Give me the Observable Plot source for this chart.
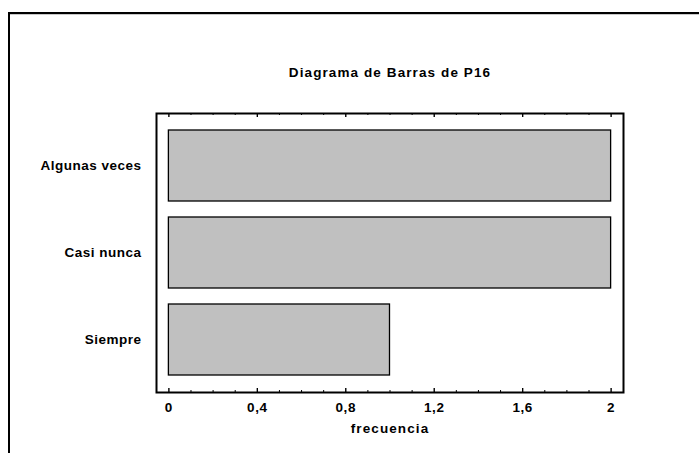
<!DOCTYPE html>
<html>
<head>
<meta charset="utf-8">
<script src="https://cdn.jsdelivr.net/npm/d3@7"></script>
<script src="https://cdn.jsdelivr.net/npm/@observablehq/plot@0.6"></script>
<style>
  body { margin: 0; background: #fff; }
  #wrap { position: relative; width: 699px; height: 453px; overflow: hidden; background: #fff; }
  #border { position: absolute; left: 8px; top: 12px; width: 720px; height: 460px;
            border-top: 2px solid #000; border-left: 2px solid #000;
            box-shadow: inset 0 1px 0 #c8c8c8; }
  #chart { position: absolute; left: 0; top: 0; }
  text { font-family: "Liberation Sans", Arial, sans-serif; }
</style>
</head>
<body>
<div id="wrap"><div id="border"></div><div id="chart"></div></div>
<script>
const title = "Diagrama de Barras de P16";
const xLabel = "frecuencia";
const categories = ["Algunas veces", "Casi nunca", "Siempre"];
const values = [2, 2, 1];
const majorTicks = [0, 0.4, 0.8, 1.2, 1.6, 2];
const minorTicks = [0.1, 0.2, 0.3, 0.5, 0.6, 0.7, 0.9, 1.0, 1.1, 1.3, 1.4, 1.5, 1.7, 1.8, 1.9];

const data = categories.map((c, i) => ({category: c, value: values[i]}));

const W = 699, H = 453;
const mL = 156, mR = 76, mT = 113, mB = 61;
const frameH = H - mT - mB;

const chart = Plot.plot({
  width: W,
  height: H,
  marginLeft: mL,
  marginRight: mR,
  marginTop: mT,
  marginBottom: mB,
  style: {fontFamily: "Liberation Sans, Arial, sans-serif", fontSize: "13px", background: "transparent", overflow: "visible"},
  x: {domain: [-0.056, 2.056]},
  y: {domain: categories, padding: 0.18},
  marks: [
    Plot.barX(data, {x: "value", y: "category", fill: "#c0c0c0", stroke: "#000", strokeWidth: 1.3}),
    // bottom ticks (inward)
    Plot.tickX(majorTicks, {x: d => d, insetTop: frameH - 4, stroke: "#000", strokeWidth: 1.4}),
    Plot.tickX(minorTicks, {x: d => d, insetTop: frameH - 2, stroke: "#000", strokeWidth: 1}),
    // top ticks (inward)
    Plot.tickX(majorTicks, {x: d => d, insetBottom: frameH - 4, stroke: "#000", strokeWidth: 1.4}),
    Plot.tickX(minorTicks, {x: d => d, insetBottom: frameH - 2, stroke: "#000", strokeWidth: 1}),
    Plot.frame({stroke: "#000", strokeWidth: 2}),
    Plot.axisX(majorTicks, {
      anchor: "bottom", tickSize: 0, tickPadding: 10, label: null,
      tickFormat: d => String(d).replace(".", ","),
      fontSize: 13.5, fontWeight: "bold", fill: "#000", className: "xt"
    }),
    Plot.axisY({
      anchor: "left", tickSize: 0, tickPadding: 15, label: null,
      fontSize: 13.5, fontWeight: "bold", fill: "#000", className: "yt"
    }),
    Plot.text([xLabel], {frameAnchor: "bottom", dy: 40, fontSize: 13.5, fontWeight: "bold", fill: "#000", className: "xl"}),
    Plot.text([title], {frameAnchor: "top", dy: -46, fontSize: 13.5, fontWeight: "bold", fill: "#000", className: "tt"})
  ]
});
document.getElementById("chart").appendChild(chart);
const spacing = {xt: "0.6px", yt: "0.5px", xl: "1.1px", tt: "1.1px"};
for (const [cls, ls] of Object.entries(spacing)) {
  chart.querySelectorAll(`.${cls} text`).forEach(t => t.style.letterSpacing = ls);
}
</script>
</body>
</html>
